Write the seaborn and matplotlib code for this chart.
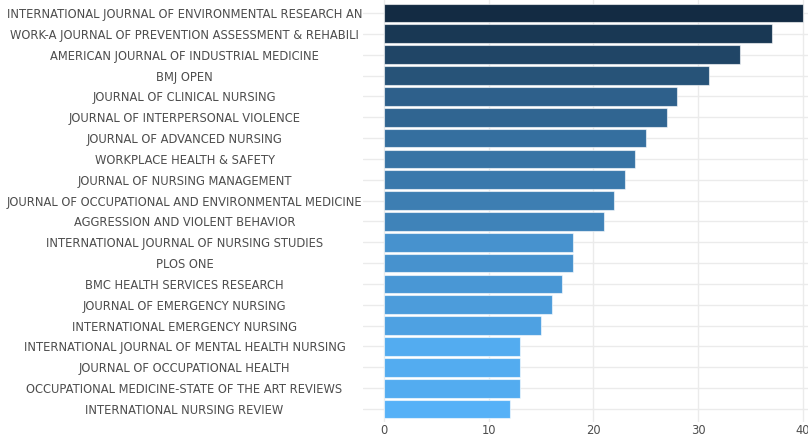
import matplotlib
matplotlib.use('Agg')
import matplotlib.pyplot as plt
import numpy as np
import pandas as pd
import seaborn as sns
from matplotlib.colors import LinearSegmentedColormap, Normalize, to_rgb

journals = [
    'INTERNATIONAL JOURNAL OF ENVIRONMENTAL RESEARCH AN',
    'WORK-A JOURNAL OF PREVENTION ASSESSMENT & REHABILI',
    'AMERICAN JOURNAL OF INDUSTRIAL MEDICINE',
    'BMJ OPEN',
    'JOURNAL OF CLINICAL NURSING',
    'JOURNAL OF INTERPERSONAL VIOLENCE',
    'JOURNAL OF ADVANCED NURSING',
    'WORKPLACE HEALTH & SAFETY',
    'JOURNAL OF NURSING MANAGEMENT',
    'JOURNAL OF OCCUPATIONAL AND ENVIRONMENTAL MEDICINE',
    'AGGRESSION AND VIOLENT BEHAVIOR',
    'INTERNATIONAL JOURNAL OF NURSING STUDIES',
    'PLOS ONE',
    'BMC HEALTH SERVICES RESEARCH',
    'JOURNAL OF EMERGENCY NURSING',
    'INTERNATIONAL EMERGENCY NURSING',
    'INTERNATIONAL JOURNAL OF MENTAL HEALTH NURSING',
    'JOURNAL OF OCCUPATIONAL HEALTH',
    'OCCUPATIONAL MEDICINE-STATE OF THE ART REVIEWS',
    'INTERNATIONAL NURSING REVIEW',
]
counts = [40, 37, 34, 31, 28, 27, 25, 24, 23, 22, 21, 18, 18, 17, 16, 15, 13, 13, 13, 12]
x_ticks = [0, 10, 20, 30, 40]


# -------------------- COLOURS (ggplot-like gradient in Lab) --------------------
_WHITE = np.array([0.95047, 1.0, 1.08883])
_M = np.array([[0.4124, 0.3576, 0.1805],
               [0.2126, 0.7152, 0.0722],
               [0.0193, 0.1192, 0.9505]])


def rgb_to_lab(rgb):
    c = np.asarray(rgb, dtype=float)
    c = np.where(c <= 0.04045, c / 12.92, ((c + 0.055) / 1.055) ** 2.4)
    xyz = _M @ c / _WHITE
    f = np.where(xyz > 216 / 24389, np.cbrt(xyz), (24389 / 27 * xyz + 16) / 116)
    return np.array([116 * f[1] - 16, 500 * (f[0] - f[1]), 200 * (f[1] - f[2])])


def lab_to_rgb(lab):
    L, a, b = lab
    fy = (L + 16) / 116
    f = np.array([fy + a / 500, fy, fy - b / 200])
    xyz = np.where(f ** 3 > 216 / 24389, f ** 3, (116 * f - 16) / (24389 / 27)) * _WHITE
    c = np.linalg.solve(_M, xyz)
    c = np.where(c <= 0.0031308, 12.92 * c, 1.055 * np.clip(c, 0, None) ** (1 / 2.4) - 0.055)
    return tuple(np.clip(c, 0, 1))


low_lab = rgb_to_lab(to_rgb('#56B1F7'))
high_lab = rgb_to_lab(to_rgb('#132B43'))
stops = [lab_to_rgb(low_lab + t * (high_lab - low_lab)) for t in np.linspace(0, 1, 11)]
cmap = LinearSegmentedColormap.from_list('gg', stops)
norm = Normalize(vmin=min(counts), vmax=max(counts))
palette = {j: cmap(norm(v)) for j, v in zip(journals, counts)}

# -------------------- PLOT --------------------
df = pd.DataFrame({'journal': journals, 'n': counts})

sns.set_style('white')
plt.rcParams['font.family'] = ['DejaVu Sans']

fig = plt.figure(figsize=(8.08, 4.36), dpi=100)
# x runs from -2 to 42; the right end lies past the image edge like the original
px_per_unit = (803 - 384) / 40
ax = fig.add_axes([363 / 808, 1 - 421.5 / 436, 44 * px_per_unit / 808, 421 / 436])

sns.barplot(data=df, x='n', y='journal', hue='journal', palette=palette,
            legend=False, orient='h', width=0.9, saturation=1, ax=ax,
            edgecolor=(1, 1, 1, 0.6), linewidth=0.8, zorder=3)

ax.set_xlim(-2, 42)
ax.set_ylim(len(journals) - 0.4, -0.6)
ax.set_xticks(x_ticks)
ax.set_xticklabels([str(t) for t in x_ticks])
ax.set_xlabel('')
ax.set_ylabel('')

ax.grid(True, color='#ebebeb', linewidth=1.0, zorder=0)
ax.set_axisbelow(True)
for s in ax.spines.values():
    s.set_visible(False)

ax.tick_params(axis='x', length=0, pad=2, labelsize=8.3, labelcolor='#4d4d4d')
ax.tick_params(axis='y', length=0, pad=128.5, labelsize=8.3, labelcolor='#4d4d4d')
for lab in ax.get_yticklabels():
    lab.set_horizontalalignment('center')

fig.savefig('out.png', dpi=100)
